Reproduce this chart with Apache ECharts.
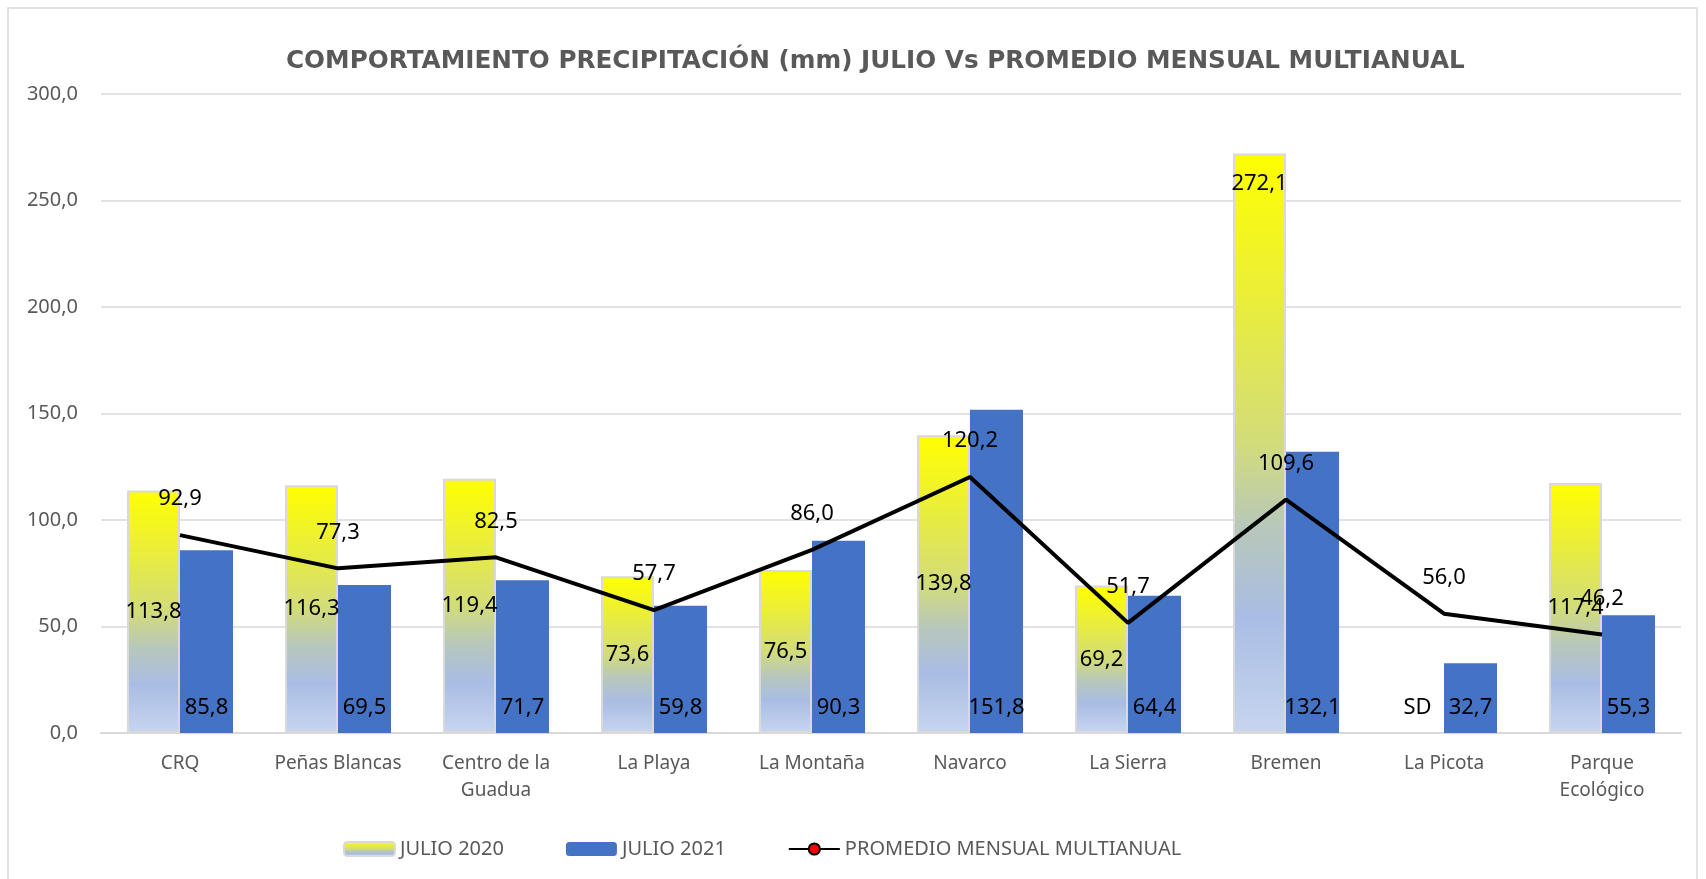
<!DOCTYPE html>
<html>
<head>
<meta charset="utf-8">
<script src="https://cdn.jsdelivr.net/npm/echarts@6/dist/echarts.min.js"></script>
<style>
  html, body { margin: 0; padding: 0; background: #fff; }
  #main { width: 1706px; height: 879px; }
</style>
</head>
<body>
<div id="main"></div>
<script>
// datos del grafico
var categories = ["CRQ", "Peñas Blancas", "Centro de la\nGuadua", "La Playa", "La Montaña",
  "Navarco", "La Sierra", "Bremen", "La Picota", "Parque\nEcológico"];
var julio2020 = [113.8, 116.3, 119.4, 73.6, 76.5, 139.8, 69.2, 272.1, null, 117.4];
var julio2021 = [85.8, 69.5, 71.7, 59.8, 90.3, 151.8, 64.4, 132.1, 32.7, 55.3];
var promedio = [92.9, 77.3, 82.5, 57.7, 86.0, 120.2, 51.7, 109.6, 56.0, 46.2];
var seriesNames = ["JULIO 2020", "JULIO 2021", "PROMEDIO MENSUAL MULTIANUAL"];

var labelFont = "'Noto Sans', sans-serif";
var gray = "#595959";

function fmt(v) {
  return Number(v).toFixed(1).replace(".", ",");
}

var yellowGrad = new echarts.graphic.LinearGradient(0, 0, 0, 1, [
  { offset: 0, color: "#ffff00" },
  { offset: 0.25, color: "#eaee3a" },
  { offset: 0.5, color: "#d2dc7a" },
  { offset: 0.65, color: "#b7c7bc" },
  { offset: 0.8, color: "#a9bde4" },
  { offset: 1, color: "#c7d5ef" }
]);

// barras 2020: SD cuando no hay dato
var data2020 = julio2020.map(function(v, i) {
  if (v === null) {
    return {
      value: 0,
      itemStyle: { borderWidth: 0 },
      label: { position: "insideBottom", distance: 14, formatter: "SD" }
    };
  }
  if (i === 7) {
    return { value: v, label: { position: "insideTop", distance: 19 } };
  }
  return v;
});

var myChart = echarts.init(document.getElementById("main"));
var option = {
  animation: false,
  backgroundColor: "#fff",
  graphic: [{
    type: "rect",
    shape: { x: 8, y: 8, width: 1689, height: 890 },
    style: { fill: "none", stroke: "#d9d9d9", lineWidth: 1.5 },
    silent: true
  }],
  title: {
    text: "COMPORTAMIENTO PRECIPITACIÓN (mm) JULIO Vs PROMEDIO MENSUAL MULTIANUAL",
    left: 281,
    top: 44,
    textStyle: {
      fontFamily: "'DejaVu Sans', sans-serif",
      fontWeight: "bold",
      fontSize: 24.7,
      color: gray
    }
  },
  legend: {
    left: 338,
    top: 834,
    itemWidth: 51,
    itemHeight: 14,
    itemGap: 62,
    textStyle: { fontFamily: labelFont, fontSize: 20, color: gray },
    data: seriesNames
  },
  grid: { left: 101, right: 25, top: 94, bottom: 146 },
  xAxis: {
    type: "category",
    data: categories,
    axisLine: { lineStyle: { color: "#d9d9d9", width: 2 } },
    axisTick: { show: false },
    axisLabel: {
      color: gray,
      fontFamily: labelFont,
      fontSize: 19,
      lineHeight: 27,
      margin: 17,
      interval: 0
    }
  },
  yAxis: {
    type: "value",
    min: 0,
    max: 300,
    interval: 50,
    axisLine: { show: false },
    axisTick: { show: false },
    splitLine: { lineStyle: { color: "#d9d9d9", width: 1.5 } },
    axisLabel: {
      color: gray,
      fontFamily: labelFont,
      fontSize: 20,
      margin: 23,
      formatter: fmt
    }
  },
  series: [
    {
      name: seriesNames[0],
      type: "bar",
      barWidth: 53,
      barGap: "0%",
      data: data2020,
      itemStyle: { color: yellowGrad, borderColor: "#d9d9d9", borderWidth: 2 },
      label: {
        show: true,
        position: "inside",
        color: "#000",
        fontFamily: labelFont,
        fontSize: 22,
        formatter: function(p) { return fmt(p.value); }
      }
    },
    {
      name: seriesNames[1],
      type: "bar",
      barWidth: 53,
      barGap: "0%",
      data: julio2021,
      itemStyle: { color: "#4472c4" },
      label: {
        show: true,
        position: "insideBottom",
        distance: 14,
        color: "#000",
        fontFamily: labelFont,
        fontSize: 22,
        formatter: function(p) { return fmt(p.value); }
      }
    },
    {
      name: seriesNames[2],
      type: "line",
      data: promedio,
      z: 5,
      symbol: "circle",
      symbolSize: 0,
      showSymbol: true,
      lineStyle: { color: "#000", width: 4 },
      itemStyle: { color: "#ff0000", borderColor: "#000", borderWidth: 2 },
      label: {
        show: true,
        position: "top",
        distance: 25,
        color: "#000",
        fontFamily: labelFont,
        fontSize: 22,
        formatter: function(p) { return fmt(p.value); }
      }
    }
  ]
};
myChart.setOption(option);
</script>
</body>
</html>
